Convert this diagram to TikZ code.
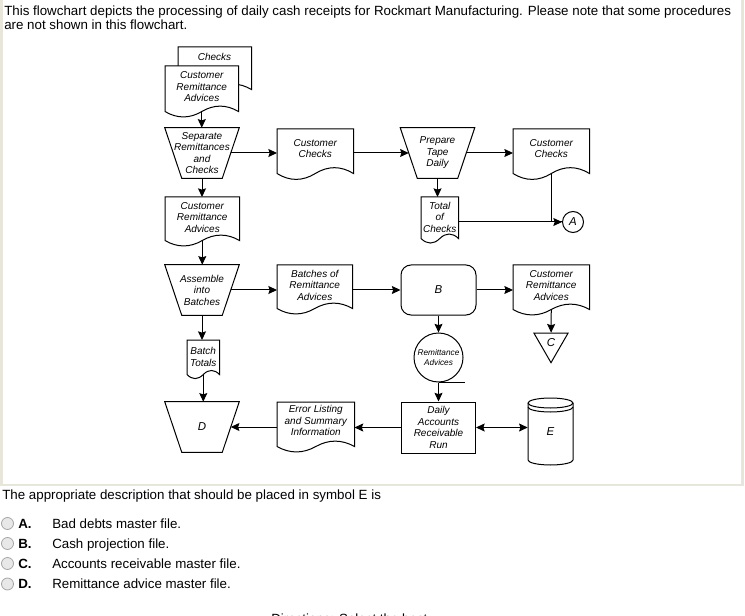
\documentclass[tikz,border=0pt]{standalone}
\usepackage{fontspec}
\setmainfont{Liberation Sans}
\usetikzlibrary{arrows.meta,shapes.geometric,calc}
\pgfdeclarelayer{background}
\pgfsetlayers{background,main}

\definecolor{framecol}{RGB}{232,230,218}
\definecolor{radiofill}{RGB}{232,232,232}
\definecolor{radiodraw}{RGB}{165,165,165}

\newcommand\fcfont{\fontsize{7.5pt}{8.6pt}\selectfont\itshape}
\newcommand\fcletter{\fontsize{8.6pt}{9pt}\selectfont\itshape}
\newcommand\fcsmall{\fontsize{6.2pt}{7pt}\selectfont\itshape}
\newcommand\qfont{\fontsize{10pt}{11pt}\selectfont}

\tikzset{
  ln/.style={line width=0.75pt},
  arr/.style={ln,-{Stealth[length=6.5pt,width=6pt,inset=1pt]}},
  dblarr/.style={ln,{Stealth[length=6.5pt,width=6pt,inset=1pt]}-{Stealth[length=6.5pt,width=6pt,inset=1pt]}},
  fctext/.style={font=\fcfont,align=center,inner sep=0pt},
  docbox/.style={rectangle,inner sep=0pt},
  manualbox/.style={rectangle,inner sep=0pt,minimum width=55.5pt,minimum height=37.5pt,font=\fcfont,align=center},
  qtext/.style={font=\qfont,inner sep=0pt,anchor=base west},
  radio/.style={circle,draw=radiodraw,fill=radiofill,line width=0.6pt,minimum size=9pt,inner sep=0pt},
}

% name, left x, top y, width, body height, wave depth, text, text shift (px, down)
\newcommand\docnode[8]{%
  \node[docbox,anchor=north west,minimum width=#4*0.75pt,minimum height=#5*0.75pt] (#1) at (#2,#3) {};
  \begin{pgfonlayer}{background}
  \draw[ln,fill=white] (#1.north west) -- (#1.north east) -- (#1.south east)
    .. controls +(-#4/6,-0.6*#6) and +(#4/6,-0.6*#6) .. (#1.south)
    .. controls +(-#4/6,0.6*#6) and +(#4/6,0.6*#6) .. (#1.south west) -- cycle;
  \end{pgfonlayer}
  \node[fctext] (#1-t) at ($(#1.center)+(0,#8)$) {#7};}

% manual operation (inverted trapezoid 74 x 50 px): name, cx, cy, text
\newcommand\manualnode[4]{%
  \node[manualbox] (#1) at (#2,#3) {#4};
  \begin{pgfonlayer}{background}
  \draw[ln,fill=white] (#1.north west) -- (#1.north east) -- ($(#1.south east)+(-17,0)$)
     -- ($(#1.south west)+(17,0)$) -- cycle;
  \end{pgfonlayer}
  \coordinate (#1-e) at ($(#1.east)+(-8.5,0)$);
  \coordinate (#1-w) at ($(#1.west)+(8.5,0)$);}

\begin{document}
\begin{tikzpicture}[x=0.75pt,y=-0.75pt]
\useasboundingbox (0,0) rectangle (745,616);
\clip (0,0) rectangle (745,616);

% frame of the question box
\draw[framecol,line width=2.2pt] (1.5,-5) -- (1.5,485) -- (742.5,485) -- (742.5,-5);

% heading
\node[qtext] (h1) at (4,15.5) {This flowchart depicts the processing of daily cash receipts for Rockmart Manufacturing. Please note that some procedures};
\node[qtext] (h2) at (4,29.5) {are not shown in this flowchart.};

% ---- column 1 top documents
\docnode{chk}{178}{47}{73}{42}{12}{}{0}
\node[fctext] (chkt) at (214.5,57) {Checks};
\docnode{cra1}{165}{66}{73}{45}{12}{Customer\\Remittance\\Advices}{-2}

% ---- row 1
\manualnode{sep}{202}{153}{Separate\\Remittances\\and\\Checks}
\docnode{cc1}{277}{129}{76}{44}{13}{Customer\\Checks}{-2.5}
\manualnode{prep}{437.5}{153}{Prepare\\Tape\\Daily}
\docnode{cc2}{513}{129}{76}{44}{13}{Customer\\Checks}{-2.5}

% ---- row 2
\docnode{cra2}{165}{197}{74}{43}{12}{Customer\\Remittance\\Advices}{-1.5}
\docnode{tot}{421}{197}{37}{41}{10}{Total\\of\\Checks}{-0.5}
\node[circle,draw,ln,minimum size=15.75pt,inner sep=0pt,font=\fcletter] (A) at (573,222) {A};

% ---- row 3
\manualnode{asm}{202}{290}{Assemble\\into\\Batches}
\docnode{bra}{277}{265}{75}{43}{12}{Batches of\\Remittance\\Advices}{-1.5}
\node[draw,ln,rounded corners=7.5pt,minimum width=56.25pt,minimum height=37.5pt,font=\fcletter] (B) at (438.5,290) {B};
\docnode{cra3}{513}{265}{76}{44}{12}{Customer\\Remittance\\Advices}{-2}
\node[regular polygon,regular polygon sides=3,shape border rotate=180,draw,ln,
      minimum size=29.5pt,inner sep=0pt,font=\fcletter] (C) at (551,343) {C};

% ---- row 3b
\docnode{bt}{187}{340}{32}{34}{9}{Batch\\Totals}{-0.5}
\node[circle,draw,ln,minimum size=36.75pt,inner sep=0pt,font=\fcsmall,align=center] (tape) at (438.5,357.5) {Remittance\\Advices};
\draw[ln] (tape.south) -- ++(26,0);

% ---- row 4
\manualnode{D}{202}{427}{\fcletter D}
\docnode{err}{277}{402}{77}{44}{12}{Error Listing\\and Summary\\Information}{-3.5}
\node[draw,ln,minimum width=55.5pt,minimum height=38.25pt,fctext] (AR) at (438.5,427.5) {Daily\\Accounts\\Receivable\\Run};
\node[minimum width=33.75pt,minimum height=50.25pt,inner sep=0pt,font=\fcletter] (E) at (550.5,431.5) {E};
\begin{scope}[shift={(E.center)}]
  \draw[ln] (-22.5,-28.5) -- (-22.5,28.5) arc[start angle=180,end angle=360,x radius=16.875pt,y radius=3.75pt] -- (22.5,-28.5);
  \draw[ln] (0,-28.5) ellipse [x radius=16.875pt,y radius=3.75pt];
  \draw[ln] (-22.5,-24.5) arc[start angle=180,end angle=360,x radius=16.875pt,y radius=3.75pt];
\end{scope}

% ---- connectors
\draw[arr] (cra1.south) -- (cra1.south |- sep.north);
\draw[arr] (sep-e) -- (sep-e -| cc1.west);
\draw[arr] (cc1.east |- prep-w) -- (prep-w);
\draw[arr] (prep-e) -- (prep-e -| cc2.west);
\draw[arr] (sep.south) -- (sep.south |- cra2.north);
\draw[arr] (prep.south) -- (prep.south |- tot.north);
\draw[ln] (cc2.south) |- (A.west);
\draw[arr] (tot.east |- A.west) -- (A.west);
\draw[arr] (cra2.south) -- (cra2.south |- asm.north);
\draw[arr] (asm-e) -- (asm-e -| bra.west);
\draw[arr] (bra.east |- B.west) -- (B.west);
\draw[arr] (B.east) -- (B.east -| cra3.west);
\draw[arr] (cra3.south) -- (C);
\draw[arr] (B.south) -- (tape.north);
\draw[arr] (tape.south) -- (AR.north);
\draw[arr] (asm.south) -- (asm.south |- bt.north);
\draw[arr] (bt.south) -- (bt.south |- D.north);
\draw[arr] (AR.west) -- (AR.west -| err.east);
\draw[arr] (err.west |- D-e) -- (D-e);
\draw[dblarr] (AR.east) -- (AR.east -| E.west);

% ---- question
\node[qtext] (q) at (2,499) {The appropriate description that should be placed in symbol E is};
\node[radio] (ra) at (7.5,523.5) {};
\node[radio] (rb) at (7.5,543.5) {};
\node[radio] (rc) at (7.5,563.5) {};
\node[radio] (rd) at (7.5,584) {};
\node[qtext,font=\qfont\bfseries] (la) at (18,528) {A.};
\node[qtext,font=\qfont\bfseries] (lb) at (18,548) {B.};
\node[qtext,font=\qfont\bfseries] (lc) at (18,568) {C.};
\node[qtext,font=\qfont\bfseries] (ld) at (18,588.5) {D.};
\node[qtext] (ta) at (52,528) {Bad debts master file.};
\node[qtext] (tb) at (52,548) {Cash projection file.};
\node[qtext] (tc) at (52,568) {Accounts receivable master file.};
\node[qtext] (td) at (52,588.5) {Remittance advice master file.};
\node[qtext] (dir) at (271,623) {Directions: Select the best};
\end{tikzpicture}
\end{document}
